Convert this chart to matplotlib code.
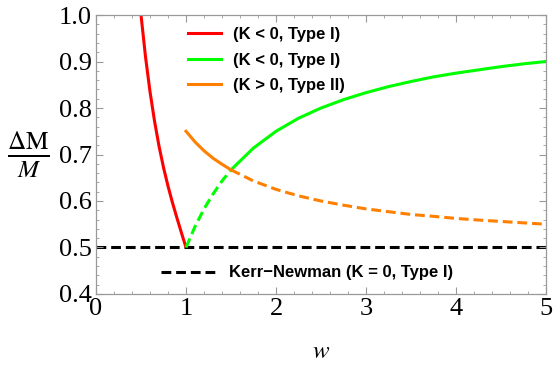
import matplotlib
matplotlib.use("Agg")
import matplotlib.pyplot as plt
from matplotlib.lines import Line2D
from matplotlib.ticker import MultipleLocator

# red branch (K < 0, Type I), w < 1
red_w = [0.5, 0.55, 0.6, 0.65, 0.7, 0.75, 0.8, 0.85, 0.9, 0.95, 1.0]
red_y = [1.0, 0.91, 0.835, 0.772, 0.718, 0.672, 0.632, 0.596, 0.563, 0.531, 0.5]

# green branch (K < 0, Type I), w > 1
green_w = [1.0, 1.1, 1.2, 1.3, 1.4, 1.5, 1.75, 2.0, 2.25, 2.5, 2.75, 3.0, 3.25, 3.5, 3.75, 4.0, 4.25, 4.5, 4.75, 5.0]
green_y = [0.5, 0.545, 0.583, 0.615, 0.643, 0.667, 0.714, 0.75, 0.778, 0.8, 0.818, 0.833, 0.846, 0.857, 0.867, 0.875, 0.882, 0.889, 0.895, 0.9]

# orange branch (K > 0, Type II)
orange_w = green_w
orange_y = [0.75, 0.727, 0.708, 0.692, 0.679, 0.667, 0.643, 0.625, 0.611, 0.6, 0.591, 0.583, 0.577, 0.571, 0.567, 0.5625, 0.559, 0.556, 0.553, 0.55]

w_cross = 1.5  # where green and orange swap solid/dashed
kn_level = 0.5

RED = "#FF0000"
GREEN = "#00FF00"
ORANGE = "#FF7F00"
DASH = (3.2, 1.6)

plt.rcParams["mathtext.fontset"] = "stix"
plt.rcParams["font.family"] = "Liberation Serif"

fig = plt.figure(figsize=(5.54, 3.69), dpi=100)
ax = fig.add_axes([0.1733, 0.2033, 0.8123, 0.756])

lw = 2.2
ax.plot(red_w, red_y, color=RED, lw=lw, solid_capstyle="butt")

i = green_w.index(w_cross)
ax.plot(green_w[:i + 1], green_y[:i + 1], color=GREEN, lw=lw, dashes=DASH)
ax.plot(green_w[i:], green_y[i:], color=GREEN, lw=lw)
ax.plot(orange_w[:i + 1], orange_y[:i + 1], color=ORANGE, lw=lw)
ax.plot(orange_w[i:], orange_y[i:], color=ORANGE, lw=lw, dashes=DASH)
ax.axhline(kn_level, color="black", lw=lw, dashes=DASH, zorder=1)

ax.set_xlim(0, 5)
ax.set_ylim(0.4, 1.0)
ax.xaxis.set_major_locator(MultipleLocator(1))
ax.xaxis.set_minor_locator(MultipleLocator(0.2))
ax.yaxis.set_major_locator(MultipleLocator(0.1))
ax.yaxis.set_minor_locator(MultipleLocator(0.02))
ax.yaxis.set_major_formatter(plt.FuncFormatter(lambda v, _: f"{v:.1f}"))
ax.tick_params(which="both", direction="in", top=True, right=True, color="#999999")
ax.tick_params(which="major", length=5, width=0.8, labelsize=19, pad=3)
ax.tick_params(which="minor", length=2.5, width=0.6)
for s in ax.spines.values():
    s.set_color("#999999")
    s.set_linewidth(0.9)

ax.set_xlabel("$w$", fontsize=18, labelpad=15)
ax.set_ylabel(r"$\frac{\Delta \mathrm{M}}{M}$", fontsize=26, rotation=0, labelpad=22, va="center")

lfont = {"family": "Liberation Sans", "weight": "bold", "size": 12}
handles = [
    Line2D([], [], color=RED, lw=lw),
    Line2D([], [], color=GREEN, lw=lw),
    Line2D([], [], color=ORANGE, lw=lw),
]
leg1 = ax.legend(handles, ["(K < 0, Type I)", "(K < 0, Type I)", "(K > 0, Type II)"],
                 loc="upper left", bbox_to_anchor=(0.17, 1.01), frameon=False, prop=lfont,
                 handlelength=2.0, handletextpad=0.7, labelspacing=0.62)
ax.add_artist(leg1)
kn = Line2D([], [], color="black", lw=lw, dashes=DASH)
ax.legend([kn], ["Kerr\u2212Newman (K = 0, Type I)"], loc="lower left",
          bbox_to_anchor=(0.11, -0.005), frameon=False, prop=lfont,
          handlelength=3.3, handletextpad=0.8)

fig.savefig("out.png", dpi=100)
